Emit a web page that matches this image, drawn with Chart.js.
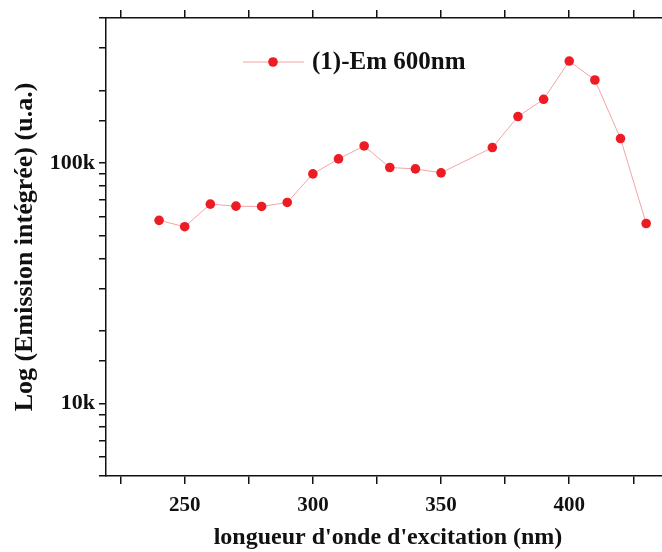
<!DOCTYPE html>
<html>
<head>
<meta charset="utf-8">
<script src="https://cdn.jsdelivr.net/npm/chart.js@4.4.1/dist/chart.umd.min.js"></script>
<style>
  html, body { margin: 0; padding: 0; background: #fff; overflow: hidden; }
  #wrap { position: relative; width: 680px; height: 552px; }
</style>
</head>
<body>
<div id="wrap"><canvas id="chart"></canvas></div>
<script>
// Excitation wavelengths (nm) and integrated emission at 600 nm
const wavelengths = [240, 250, 260, 270, 280, 290, 300, 310, 320, 330, 340, 350, 370, 380, 390, 400, 410, 420, 430];
const emission = [57700, 54300, 67400, 66100, 65900, 68500, 90000, 103900, 117600, 95700, 94400, 90900, 115800, 155800, 183800, 265000, 221000, 126200, 56000];
const xTicks = [225, 250, 275, 300, 325, 350, 375, 400, 425];
const seriesLabel = '(1)-Em 600nm';
const yLabels = { 100000: '100k', 10000: '10k' };

const fontFamily = "'Liberation Serif', 'Times New Roman', serif";
const markerColor = '#ed1c24';
const lineColor = '#f4a3a3';

// legend drawn inside the plot, like the original
const insideLegend = {
  id: 'insideLegend',
  afterDraw(chart) {
    const ctx = chart.ctx;
    const y = 62;
    ctx.save();
    ctx.strokeStyle = lineColor;
    ctx.lineWidth = 1;
    ctx.beginPath();
    ctx.moveTo(243, y);
    ctx.lineTo(304, y);
    ctx.stroke();
    ctx.fillStyle = markerColor;
    ctx.beginPath();
    ctx.arc(273, y, 4.8, 0, Math.PI * 2);
    ctx.fill();
    ctx.fillStyle = '#111';
    ctx.font = 'bold 25px ' + fontFamily;
    ctx.textBaseline = 'middle';
    ctx.fillText(seriesLabel, 312, y + 1);
    ctx.restore();
  }
};

const xTickFont = { family: fontFamily, size: 21, weight: 'bold' };
const yTickFont = { family: fontFamily, size: 22, weight: 'bold' };
const setXTicks = (s) => { s.ticks = xTicks.map((v) => ({ value: v })); };

const ctx = document.getElementById('chart').getContext('2d');
new Chart(ctx, {
  type: 'line',
  data: {
    labels: wavelengths,
    datasets: [{
      label: seriesLabel,
      data: wavelengths.map((w, i) => ({ x: w, y: emission[i] })),
      borderColor: lineColor,
      borderWidth: 1,
      pointRadius: 4.8,
      pointBackgroundColor: markerColor,
      pointBorderColor: markerColor,
      pointBorderWidth: 0,
      tension: 0,
      fill: false,
    }],
  },
  options: {
    responsive: true,
    maintainAspectRatio: false,
    animation: false,
    layout: { padding: { left: 0, right: 10, top: 0, bottom: 0 } },
    plugins: {
      legend: { display: false },
      tooltip: { enabled: false },
    },
    scales: {
      x: {
        type: 'linear',
        position: 'bottom',
        min: 219.3,
        max: 439.3,
        afterBuildTicks: setXTicks,
        afterFit: (s) => { s.height = 76; },
        ticks: {
          color: '#111',
          font: xTickFont,
          padding: 9,
          maxRotation: 0,
          autoSkip: false,
          callback: (v) => (v % 50 === 0 ? v : ''),
        },
        grid: { drawOnChartArea: false, tickLength: 8, color: '#111', lineWidth: 1.5 },
        border: { color: '#111', width: 1.5 },
        title: {
          display: true,
          text: "longueur d'onde d'excitation (nm)",
          color: '#111',
          font: { family: fontFamily, size: 24, weight: 'bold' },
          padding: { top: -3, bottom: 0 },
        },
      },
      xTop: {
        type: 'linear',
        position: 'top',
        min: 219.3,
        max: 439.3,
        afterBuildTicks: setXTicks,
        afterFit: (s) => { s.height = 18; },
        ticks: { display: false },
        grid: { drawOnChartArea: false, tickLength: 8, color: '#111', lineWidth: 1.5 },
        border: { color: '#111', width: 1.5 },
      },
      y: {
        type: 'logarithmic',
        min: 5000,
        max: 400000,
        afterFit: (s) => { s.width = 106; },
        ticks: {
          color: '#111',
          font: yTickFont,
          padding: 4,
          autoSkip: false,
          callback: (v) => yLabels[v] || '',
        },
        grid: { drawOnChartArea: false, tickLength: 7, color: '#111', lineWidth: 1.5 },
        border: { color: '#111', width: 1.5 },
        title: {
          display: true,
          text: 'Log (Emission intégrée) (u.a.)',
          color: '#111',
          font: { family: fontFamily, size: 26, weight: 'bold' },
          padding: { top: 10, bottom: 0 },
        },
      },
    },
  },
  plugins: [insideLegend],
});
</script>
</body>
</html>
